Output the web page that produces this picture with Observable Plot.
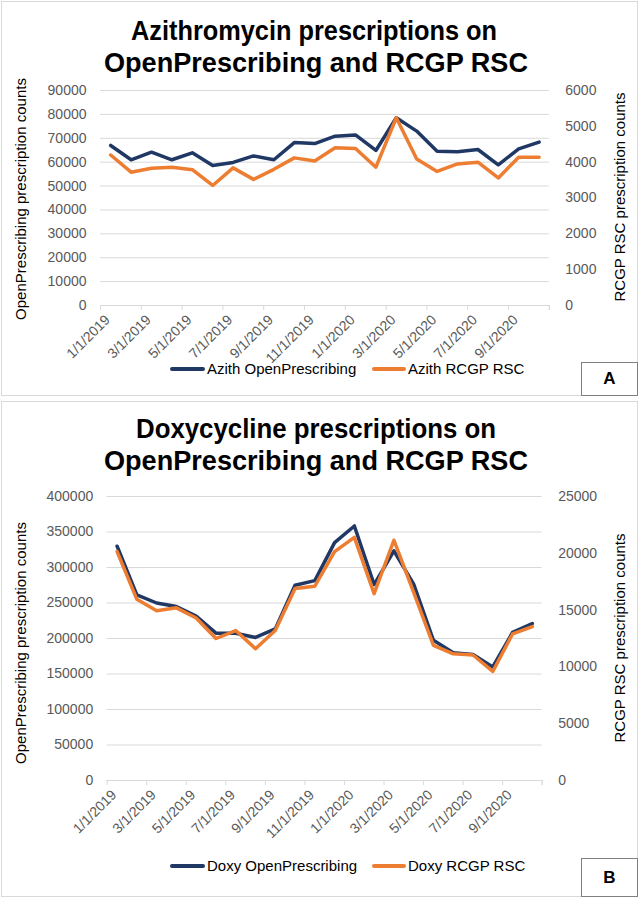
<!DOCTYPE html>
<html><head><meta charset="utf-8">
<script src="https://cdn.jsdelivr.net/npm/d3@7"></script>
<script src="https://cdn.jsdelivr.net/npm/@observablehq/plot@0.6"></script>
<style>
body{margin:0;background:#fff;}
#root{position:relative;width:641px;height:899px;overflow:hidden;font-family:"Liberation Sans",Arial,sans-serif;background:#fff;}
.abs{position:absolute;}
.panel{position:absolute;border:1px solid #d9d9d9;box-sizing:border-box;}
.box{position:absolute;border:1px solid #808080;box-sizing:border-box;background:#fff;display:flex;align-items:center;justify-content:center;font-weight:bold;font-size:17px;color:#000;}
.ylab{position:absolute;font-size:15px;color:#000;white-space:nowrap;transform:translate(-50%,-50%) rotate(-90deg);}
.legend{position:absolute;font-size:15px;color:#000;white-space:nowrap;line-height:18px;}
.sw{position:absolute;height:4px;border-radius:2px;}
</style></head>
<body>
<div id="root">
  <div class="panel" style="left:1px;top:1px;width:637px;height:395px;"></div>
  <div class="panel" style="left:1px;top:401px;width:637px;height:496px;"></div>
  <svg class="abs" style="left:0;top:0" width="641" height="899" font-family="Liberation Sans, Arial, sans-serif" font-weight="bold" font-size="27" fill="#000">
    <text id="tA1" x="314" y="40" text-anchor="middle" textLength="366" lengthAdjust="spacingAndGlyphs"></text>
    <text id="tA2" x="316" y="72" text-anchor="middle" textLength="424" lengthAdjust="spacingAndGlyphs"></text>
    <text id="tB1" x="316" y="438" text-anchor="middle" textLength="360" lengthAdjust="spacingAndGlyphs"></text>
    <text id="tB2" x="316" y="470" text-anchor="middle" textLength="424" lengthAdjust="spacingAndGlyphs"></text>
  </svg>
  <div id="plotA" class="abs" style="left:0;top:0;"></div>
  <div id="plotA2" class="abs" style="left:0;top:0;"></div>
  <div id="plotB" class="abs" style="left:0;top:401px;"></div>
  <div id="plotB2" class="abs" style="left:0;top:401px;"></div>
  <div class="ylab" style="left:20px;top:199px;">OpenPrescribing prescription counts</div>
  <div class="ylab" style="left:619px;top:197px;">RCGP RSC prescription counts</div>
  <div class="ylab" style="left:20px;top:643px;">OpenPrescribing prescription counts</div>
  <div class="ylab" style="left:619px;top:638px;">RCGP RSC prescription counts</div>
  <div id="legA"></div>
  <div id="legB"></div>
  <div class="box" style="left:581px;top:362px;width:57px;height:34px;">A</div>
  <div class="box" style="left:581px;top:858px;width:57px;height:39px;">B</div>
</div>
<script>
// ---- data ----
const months = ["1/1/2019","2/1/2019","3/1/2019","4/1/2019","5/1/2019","6/1/2019","7/1/2019","8/1/2019","9/1/2019","10/1/2019","11/1/2019","12/1/2019",
                "1/1/2020","2/1/2020","3/1/2020","4/1/2020","5/1/2020","6/1/2020","7/1/2020","8/1/2020","9/1/2020","10/1/2020"];
const azithOpenPrescribing = [67000, 61000, 64200, 61000, 63900, 58600, 59900, 62600, 61000, 68200, 67800, 70900,
                              71400, 64900, 78600, 73000, 64600, 64400, 65300, 58900, 65600, 68400];
const azithRCGP = [4200, 3720, 3830, 3860, 3790, 3350, 3840, 3520, 3800, 4120, 4030, 4400,
                   4380, 3860, 5240, 4090, 3740, 3950, 4000, 3560, 4140, 4140];
const doxyOpenPrescribing = [330000, 261500, 250000, 245000, 231500, 207500, 207500, 201500, 213500, 275000, 281500, 335000,
                             358500, 276000, 323500, 276500, 197500, 180000, 177500, 160000, 208500, 221000];
const doxyRCGP = [20150, 15950, 14950, 15200, 14300, 12500, 13200, 11600, 13200, 16900, 17100, 20150,
                  21400, 16450, 21150, 16550, 11900, 11150, 11050, 9600, 12900, 13550];
const azithLeftTicks = [0,10000,20000,30000,40000,50000,60000,70000,80000,90000];
const azithRightTicks = [0,1000,2000,3000,4000,5000,6000];
const doxyLeftTicks = [0,50000,100000,150000,200000,250000,300000,350000,400000];
const doxyRightTicks = [0,5000,10000,15000,20000,25000];
const titles = {
  A: ["Azithromycin prescriptions on", "OpenPrescribing and RCGP RSC"],
  B: ["Doxycycline prescriptions on", "OpenPrescribing and RCGP RSC"]
};
const legendLabels = {
  A: ["Azith OpenPrescribing", "Azith RCGP RSC"],
  B: ["Doxy OpenPrescribing", "Doxy RCGP RSC"]
};
const NAVY = "#203864", ORANGE = "#ED7D31";

document.getElementById("tA1").textContent = titles.A[0];
document.getElementById("tA2").textContent = titles.A[1];
document.getElementById("tB1").textContent = titles.B[0];
document.getElementById("tB2").textContent = titles.B[1];

function legend(id, labels, top) {
  const el = document.getElementById(id);
  el.innerHTML =
    `<div class="sw" style="left:170px;top:${top-2}px;width:35px;background:${NAVY}"></div>` +
    `<div class="legend" style="left:207px;top:${top-9}px;">${labels[0]}</div>` +
    `<div class="sw" style="left:372px;top:${top-2}px;width:34px;background:${ORANGE}"></div>` +
    `<div class="legend" style="left:408px;top:${top-9}px;">${labels[1]}</div>`;
}
legend("legA", legendLabels.A, 369);
legend("legB", legendLabels.B, 866);

const n = months.length;
const labelIdx = d3.range(0, n, 2);
const boundaries = d3.range(-0.5, n, 2).concat([n - 0.5]);
const FONT = {fontFamily: "Liberation Sans, Arial, sans-serif", fontSize: "14px", color: "#595959", background: "transparent", overflow: "visible"};

function leftPlot(values, yMax, ticks, g) {
  const rows = months.map((m, i) => ({i, month: m, v: values[i]}));
  return Plot.plot({
    width: 641, height: g.h,
    marginLeft: g.ml, marginRight: g.mr, marginTop: g.mt, marginBottom: g.mb,
    style: FONT,
    x: {type: "linear", domain: [-0.5, n - 0.5], axis: null},
    y: {domain: [0, yMax], axis: null},
    marks: [
      Plot.gridY(ticks, {stroke: "#d9d9d9", strokeOpacity: 1, strokeWidth: 1}),
      Plot.axisY(ticks, {anchor: "left", tickSize: 0, tickPadding: 14, label: null, fill: "#595959", tickFormat: d => String(d)}),
      Plot.axisX(boundaries, {anchor: "bottom", tickSize: 5, stroke: "#d9d9d9", strokeOpacity: 1, tickFormat: () => "", label: null}),
      Plot.ruleY([0], {stroke: "#d9d9d9"}),
      Plot.text(labelIdx, {x: d => d, text: d => months[d], frameAnchor: "bottom", rotate: -45, textAnchor: "end", lineAnchor: "middle", dx: -3, dy: 12, fill: "#595959"}),
      Plot.line(rows, {x: "i", y: "v", stroke: NAVY, strokeWidth: 3.5, strokeLinejoin: "round", strokeLinecap: "round"})
    ]
  });
}
function rightPlot(values, yMax, ticks, g) {
  const rows = months.map((m, i) => ({i, month: m, v: values[i]}));
  return Plot.plot({
    width: 641, height: g.h,
    marginLeft: g.ml, marginRight: g.mr, marginTop: g.mt, marginBottom: g.mb,
    style: FONT,
    x: {type: "linear", domain: [-0.5, n - 0.5], axis: null},
    y: {domain: [0, yMax], axis: null},
    marks: [
      Plot.axisY(ticks, {anchor: "right", tickSize: 0, tickPadding: 16, label: null, fill: "#595959", tickFormat: d => String(d)}),
      Plot.line(rows, {x: "i", y: "v", stroke: ORANGE, strokeWidth: 3.5, strokeLinejoin: "round", strokeLinecap: "round"})
    ]
  });
}

const gA = {h: 360, ml: 100, mr: 641 - 548.8, mt: 90, mb: 360 - 305};
const gB = {h: 440, ml: 106.7, mr: 641 - 541.7, mt: 496 - 401, mb: 401 + 440 - 780};
document.getElementById("plotA").append(leftPlot(azithOpenPrescribing, 90000, azithLeftTicks, gA));
document.getElementById("plotA2").append(rightPlot(azithRCGP, 6000, azithRightTicks, gA));
document.getElementById("plotB").append(leftPlot(doxyOpenPrescribing, 400000, doxyLeftTicks, gB));
document.getElementById("plotB2").append(rightPlot(doxyRCGP, 25000, doxyRightTicks, gB));
</script>
</body></html>
